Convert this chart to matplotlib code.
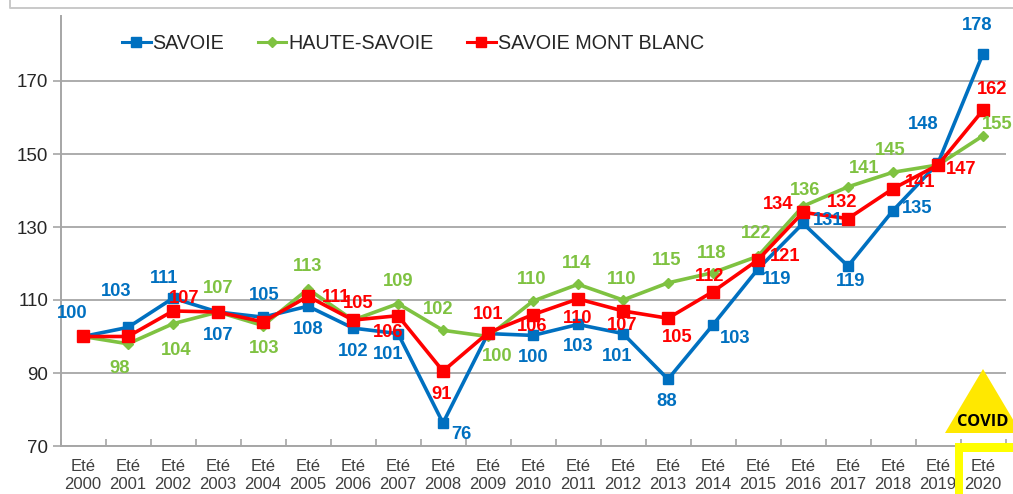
import matplotlib
matplotlib.use("Agg")
import matplotlib.pyplot as plt
from matplotlib.patches import Polygon, Rectangle
from matplotlib.lines import Line2D
from matplotlib.transforms import IdentityTransform

plt.rcParams['font.family'] = ['Liberation Sans', 'DejaVu Sans']

W, H = 1013, 494

years = list(range(2000, 2021))
categories = [f"Eté\n{y}" for y in years]

savoie = [100, 102.5, 110.5, 106.7, 105.3, 108.3, 102.3, 100.8, 76.3, 100.8, 100.3,
          103.3, 100.8, 88.3, 103.2, 118.5, 131, 119.3, 134.5, 147.5, 177.5]
haute_savoie = [100, 98, 103.5, 106.7, 103, 113, 104.5, 109, 101.7, 100, 109.7,
                114.3, 110, 114.7, 117.5, 122, 135.7, 141, 145, 147, 155]
mont_blanc = [100, 100, 107, 106.7, 104, 111, 104.5, 105.7, 90.5, 101, 106,
              110.3, 107, 105, 112.3, 121, 134, 132.3, 140.5, 147, 162]

savoie_labels = [100, 103, 111, 107, 105, 108, 102, 101, 76, None, 100,
                 103, 101, 88, 103, 119, 131, 119, 135, 148, 178]
haute_labels = [None, 98, 104, 107, 103, 113, None, 109, 102, 100, 110,
                114, 110, 115, 118, 122, 136, 141, 145, None, 155]
mont_blanc_labels = [None, None, 107, None, None, 111, 105, 106, 91, 101, 106,
                     110, 107, 105, 112, 121, 134, 132, 141, 147, 162]

# label offsets from their point, in pixels (x right, y up)
savoie_off = [(-11, 23.5), (-12, 36), (-9, 20), (0, -23), (1, 22), (0, -23), (0, -23),
              (-10, -21), (18, -11), None, (0, -22), (0, -22.5), (-6, -23), (-1, -22),
              (22, -14), (19, -11), (25, 3), (3, -15), (24, 2), (-15, 39), (-6, 28)]
haute_off = [None, (-8, -25), (3, -27), (0, 24), (1, -22.5), (0, 23), None, (0, 22),
             (-5, 21), (9, -20), (-1, 22), (-1, 21), (-1, 21), (-1, 22), (-1, 19),
             (-2, 23), (2, 16), (16, 18), (-3, 22), None, (14, 11)]
mont_blanc_off = [None, None, (11, 12), None, None, (28, -1), (5, 17), (-10, -17),
                  (-1, -23), (0, 18), (-1, -12), (0, -20), (-1, -15), (9, -19),
                  (-3, 15), (27, 3), (-25, 8), (-6, 16), (27, 6), (23, -5), (9, 21)]

BLUE, GREEN, RED = '#0070C0', '#7FC241', '#FF0000'
GRID = '#A6A6A6'

fig = plt.figure(figsize=(W / 100, H / 100), dpi=100)
ax = fig.add_axes([60.5 / W, (H - 446) / H, 945 / W, 430 / H])
ax.set_xlim(-0.5, 20.5)
ax.set_ylim(70, 70 + 430 / 3.65)

ax.set_yticks(range(70, 171, 20))
ax.tick_params(axis='y', length=6, width=1.2, color=GRID, labelsize=13.5,
               labelcolor='#262626', pad=3)
ax.yaxis.grid(True, color=GRID, lw=1.3)
ax.set_axisbelow(True)

xs = list(range(len(years)))
ax.set_xticks([x - 0.5 for x in xs] + [20.5], labels=[])
ax.set_xticks(xs, labels=categories, minor=True)
ax.tick_params(axis='x', which='major', direction='in', length=5, width=1.2, color=GRID)
ax.tick_params(axis='x', which='minor', length=0, labelsize=12,
               labelcolor='#3F3F3F', pad=9)
for t in ax.get_xticklabels(minor=True):
    t.set_linespacing(1.25)

for s in ('top', 'right'):
    ax.spines[s].set_visible(False)
for s in ('left', 'bottom'):
    ax.spines[s].set_color(GRID)
    ax.spines[s].set_linewidth(1.4)

series = [
    ('SAVOIE', savoie, BLUE, 's', 7.8, savoie_labels, savoie_off),
    ('HAUTE-SAVOIE', haute_savoie, GREEN, 'D', 5.0, haute_labels, haute_off),
    ('SAVOIE MONT BLANC', mont_blanc, RED, 's', 8.2, mont_blanc_labels, mont_blanc_off),
]
for name, vals, col, mk, ms, labs, offs in series:
    ax.plot(xs, vals, color=col, lw=2.6, marker=mk, ms=ms, mec=col, mfc=col,
            label=name, clip_on=False, zorder=3)
for name, vals, col, mk, ms, labs, offs in series:
    for x, v, lab, off in zip(xs, vals, labs, offs):
        if lab is None:
            continue
        ax.annotate(str(lab), (x, v), xytext=(off[0] * 0.72, off[1] * 0.72),
                    textcoords='offset points', ha='center', va='center',
                    color=col, fontsize=13.2, fontweight='bold', zorder=5,
                    annotation_clip=False)

leg = ax.legend(ncols=3, loc='upper left', bbox_to_anchor=(122 / W, (H - 34) / H),
                bbox_transform=fig.transFigure, frameon=False, fontsize=14.2,
                handlelength=1.45, handletextpad=0.1, columnspacing=1.7,
                borderpad=0, borderaxespad=0, labelcolor='#262626')
for h in leg.legend_handles:
    h.set_linewidth(2.2)
    h.set_markersize(h.get_markersize() * 0.95)


def px(x, y):
    return (x, H - y)


identity = IdentityTransform()
# outer frame remnant
fig.add_artist(Line2D([10, 10, W], [H, H - 8, H - 8], transform=identity,
                      color='#C9C9C9', lw=1.4))
# COVID sign
fig.add_artist(Polygon([px(983, 369), px(945, 433), px(1021, 433)], closed=True,
                       transform=identity, facecolor='#FFE800', edgecolor='none'))
fig.text(983 / W, (H - 422) / H, 'COVID', ha='center', va='center', fontsize=11.8,
         fontweight='bold', color='black', family=['Open Sans', 'DejaVu Sans'])
fig.add_artist(Rectangle(px(955, H), 8, 51, transform=identity,
                         facecolor='#FFFF00', edgecolor='none'))
fig.add_artist(Rectangle(px(955, 452), W - 955, 9, transform=identity,
                         facecolor='#FFFF00', edgecolor='none'))

fig.savefig('out.png', dpi=100)
